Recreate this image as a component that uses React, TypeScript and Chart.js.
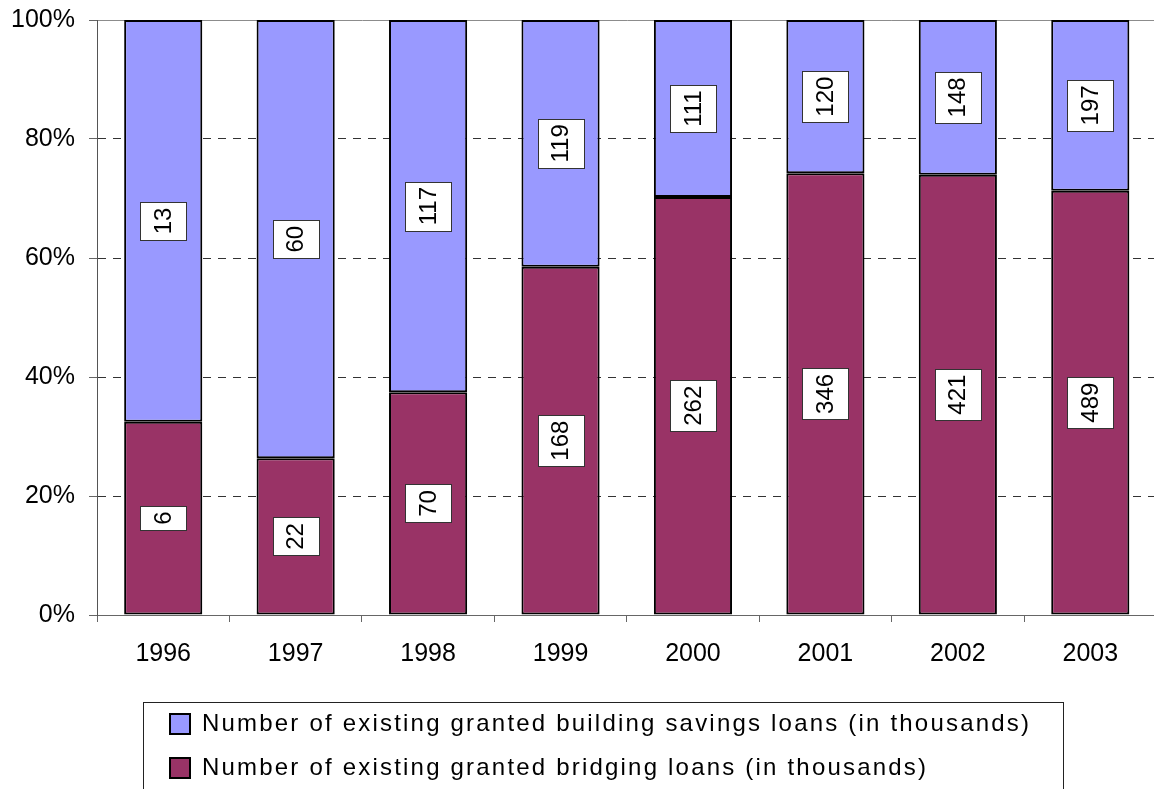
import React, { useEffect, useRef } from "react";
import { Chart, registerables } from "chart.js";

Chart.register(...registerables);

const FONT = "'Liberation Sans', Arial, Helvetica, sans-serif";

const years = ["1996", "1997", "1998", "1999", "2000", "2001", "2002", "2003"];
const savingsLoans = [13.1, 60.4, 117, 119, 111, 120, 148, 197];
const bridgingLoans = [6.3, 21.6, 70, 168, 262, 346, 421, 489];
const seriesNames = [
  "Number of existing granted building savings loans (in thousands)",
  "Number of existing granted bridging loans (in thousands)",
];
const yTickStep = 20;

const totals = years.map((_, i) => savingsLoans[i] + bridgingLoans[i]);
const savingsPct = savingsLoans.map((v, i) => (v / totals[i]) * 100);
const bridgingPct = bridgingLoans.map((v, i) => (v / totals[i]) * 100);

const segmentLabels = {
  id: "segmentLabels",
  afterDatasetsDraw(chart: any) {
    const ctx = chart.ctx;
    ctx.save();
    ctx.font = `24px ${FONT}`;
    chart.data.datasets.forEach((ds: any, di: number) => {
      const meta = chart.getDatasetMeta(di);
      meta.data.forEach((el: any, i: number) => {
        const { x, y, base } = el.getProps(["x", "y", "base"], true);
        const cy = (y + base) / 2;
        const text = String(Math.round(ds.rawValues[i]));
        const w = ctx.measureText(text).width;
        const bh = Math.round(w + 11);
        const bw = 46;
        const left = Math.round(x - bw / 2) + 0.5;
        const top = Math.round(cy - bh / 2) + 0.5;
        ctx.fillStyle = "#ffffff";
        ctx.fillRect(left, top, bw, bh);
        ctx.strokeStyle = "#333333";
        ctx.lineWidth = 1;
        ctx.strokeRect(left, top, bw, bh);
        ctx.save();
        ctx.translate(x, cy);
        ctx.rotate(-Math.PI / 2);
        ctx.fillStyle = "#000000";
        ctx.textAlign = "center";
        ctx.textBaseline = "middle";
        ctx.fillText(text, 0, 1);
        ctx.restore();
      });
    });
    ctx.restore();
  },
};

const legendPlacement = {
  id: "legendPlacement",
  afterLayout(chart: any) {
    const lg = chart.legend;
    if (!lg) return;
    const h = lg.height;
    lg.left = 150;
    lg.right = 1140;
    lg.top = 692;
    lg.bottom = 692 + h;
    if (!lg.__wrapped) {
      const orig = lg.draw.bind(lg);
      lg.draw = (...args: any[]) => {
        const ctx = chart.ctx;
        ctx.save();
        (ctx as any).letterSpacing = "2.2px";
        orig(...args);
        ctx.restore();
      };
      lg.__wrapped = true;
    }
  },
  afterDraw(chart: any) {
    const ctx = chart.ctx;
    ctx.save();
    ctx.strokeStyle = "#222222";
    ctx.lineWidth = 1;
    ctx.strokeRect(143.5, 702.5, 920, 200);
    ctx.restore();
  },
};

export default function App() {
  const ref = useRef<HTMLCanvasElement | null>(null);

  useEffect(() => {
    if (!ref.current) return;
    const chart = new Chart(ref.current, {
      type: "bar",
      data: {
        labels: years,
        datasets: [
          {
            label: seriesNames[1],
            data: bridgingPct,
            rawValues: bridgingLoans,
            backgroundColor: "#993366",
            borderColor: "#000000",
            borderWidth: 2,
            borderSkipped: false,
            barPercentage: 0.59,
            categoryPercentage: 1,
          } as any,
          {
            label: seriesNames[0],
            data: savingsPct,
            rawValues: savingsLoans,
            backgroundColor: "#9999FF",
            borderColor: "#000000",
            borderWidth: 2,
            borderSkipped: false,
            barPercentage: 0.59,
            categoryPercentage: 1,
          } as any,
        ],
      },
      options: {
        responsive: false,
        animation: false,
        events: [],
        layout: { padding: { top: 20, right: 3.5, bottom: 27, left: 0 } },
        plugins: {
          tooltip: { enabled: false },
          legend: {
            position: "bottom",
            align: "start",
            labels: {
              boxWidth: 20,
              boxHeight: 20,
              padding: 20,
              color: "#000000",
              font: { family: FONT, size: 24 },
              sort: (a: any, b: any) => b.datasetIndex - a.datasetIndex,
            },
          },
        },
        scales: {
          x: {
            stacked: true,
            afterFit: (s: any) => {
              s.height = 60;
              s.paddingLeft = 0;
              s.paddingRight = 0;
            },
            grid: {
              drawOnChartArea: false,
              drawTicks: true,
              tickLength: 7,
              color: "#666666",
              offset: true,
            },
            border: { color: "#666666", width: 1 },
            ticks: {
              color: "#000000",
              font: { family: FONT, size: 25 },
              padding: 17,
              maxRotation: 0,
            },
          },
          y: {
            stacked: true,
            min: 0,
            max: 100,
            afterFit: (s: any) => {
              s.width = 97;
              s.paddingTop = 0;
              s.paddingBottom = 0;
            },
            grid: {
              color: (c: any) =>
                c.tick && c.tick.value === 100 ? "#8c8c8c" : c.tick && c.tick.value === 0 ? "#666666" : "#333333",
              tickColor: "#666666",
              tickLength: 8,
              lineWidth: 1,
            },
            border: {
              color: "#555555",
              width: 1,
              dash: (c: any) => (c.tick && c.tick.value !== 100 && c.tick.value !== 0 ? [8, 7] : []),
            } as any,
            ticks: {
              stepSize: yTickStep,
              color: "#000000",
              padding: 14,
              font: { family: FONT, size: 25 },
              callback: (v: any) => `${v}%`,
            },
          },
        },
      },
      plugins: [segmentLabels, legendPlacement],
    });
    return () => chart.destroy();
  }, []);

  return (
    <div
      style={{
        position: "fixed",
        left: 0,
        top: 0,
        width: 1154,
        height: 789,
        overflow: "hidden",
        background: "#ffffff",
      }}
    >
      <canvas ref={ref} width={1160} height={800} style={{ display: "block" }} />
    </div>
  );
}
